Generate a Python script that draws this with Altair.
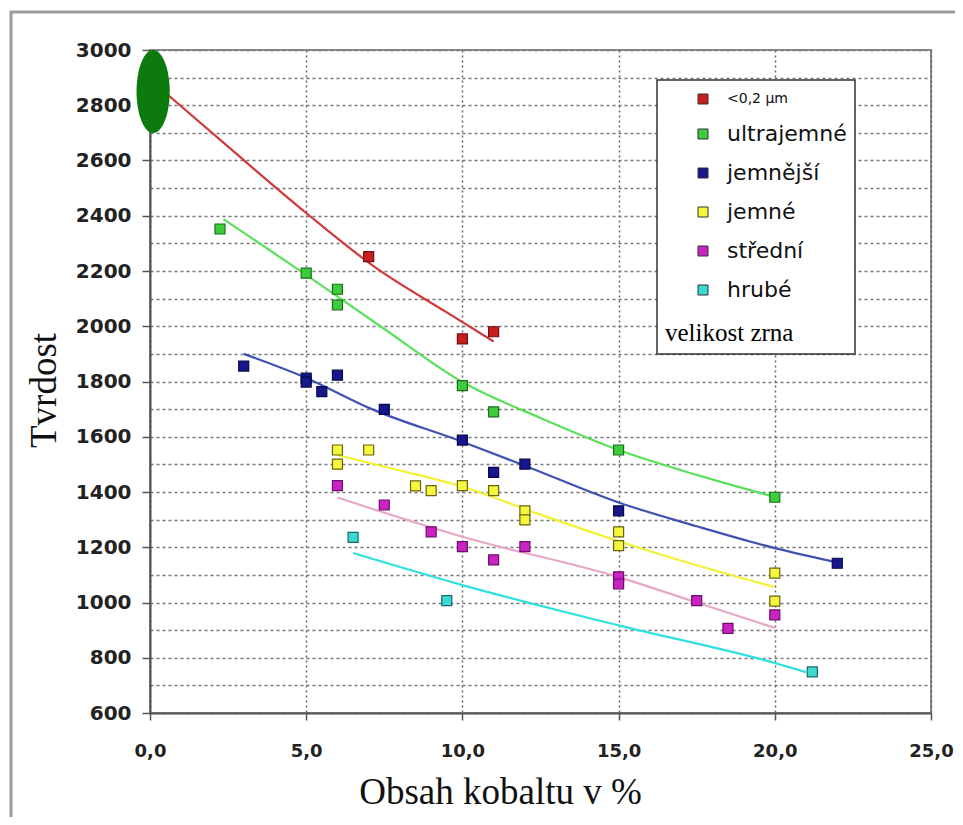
import altair as alt
import pandas as pd

# ---------------- data ----------------
series = ["<0,2 µm", "ultrajemné", "jemnější", "jemné", "střední", "hrubé"]
fill_colors = ["#c81e1e", "#3dcc3d", "#16168e", "#f6f63c", "#cc22c4", "#3cd8d2"]
edge_colors = ["#701010", "#1a701a", "#08084a", "#66660f", "#6a106a", "#1a6a6a"]
line_colors = ["#d03a3a", "#5ae05a", "#4152b4", "#f2f232", "#eaa6c8", "#30e0e0"]

# measured points
red_x = [7, 10, 11]
red_y = [2252, 1954, 1980]
green_x = [2.24, 5, 6, 6, 10, 11, 15, 20]
green_y = [2352, 2192, 2134, 2077, 1785, 1690, 1552, 1381]
blue_x = [3, 5, 5, 5.5, 6, 7.5, 10, 11, 12, 15, 22]
blue_y = [1856, 1812, 1798, 1763, 1823, 1699, 1588, 1471, 1501, 1332, 1142]
yellow_x = [6, 6, 7, 8.5, 9, 10, 11, 12, 12, 15, 15, 20, 20]
yellow_y = [1552, 1501, 1552, 1422, 1405, 1423, 1405, 1332, 1299, 1256, 1206, 1106, 1005]
magenta_x = [6, 7.5, 9, 10, 11, 12, 15, 15, 17.5, 18.5, 20]
magenta_y = [1423, 1353, 1256, 1202, 1154, 1202, 1093, 1067, 1007, 906, 955]
cyan_x = [6.5, 9.5, 21.2]
cyan_y = [1236, 1007, 749]

# trend curves
red_tx = [0.6, 2.5, 5, 7.2, 9.5, 11]
red_ty = [2835, 2650, 2410, 2214, 2050, 1945]
green_tx = [2.35, 5, 7.5, 10, 12.5, 15, 17.5, 20]
green_ty = [2388, 2186, 1990, 1798, 1668, 1552, 1462, 1382]
blue_tx = [3, 5, 7.1, 10, 12, 15, 17.5, 20, 22]
blue_ty = [1900, 1813, 1700, 1582, 1495, 1362, 1276, 1197, 1145]
yellow_tx = [6, 8, 10, 12.5, 15, 17.5, 20]
yellow_ty = [1534, 1478, 1419, 1318, 1222, 1135, 1056]
pink_tx = [6, 10, 15, 17.5, 20]
pink_ty = [1380, 1238, 1092, 1000, 908]
cyan_tx = [6.5, 10, 15, 20, 21]
cyan_ty = [1179, 1063, 917, 781, 748]

# green ellipse marker at the origin
ellipse_x = [0.1]
ellipse_y = [2850]

x_ticks = [0, 5, 10, 15, 20, 25]
y_ticks = list(range(600, 3001, 100))

# ---------------- tables ----------------
pts_rows = []
for name, xs, ys in zip(series, [red_x, green_x, blue_x, yellow_x, magenta_x, cyan_x],
                        [red_y, green_y, blue_y, yellow_y, magenta_y, cyan_y]):
    for xv, yv in zip(xs, ys):
        pts_rows.append({"series": name, "x": xv, "y": yv})
pts = pd.DataFrame(pts_rows)

line_rows = []
for name, xs, ys in zip(series, [red_tx, green_tx, blue_tx, yellow_tx, pink_tx, cyan_tx],
                        [red_ty, green_ty, blue_ty, yellow_ty, pink_ty, cyan_ty]):
    for i, (xv, yv) in enumerate(zip(xs, ys)):
        line_rows.append({"series": name, "x": xv, "y": yv, "o": i})
lines = pd.DataFrame(line_rows)

ell = pd.DataFrame({"x": ellipse_x, "y": ellipse_y})

# ---------------- encodings ----------------
X = alt.X(
    "x:Q",
    scale=alt.Scale(domain=[0, 25], nice=False, zero=False),
    axis=alt.Axis(
        values=x_ticks,
        labelExpr="replace(format(datum.value, '.1f'), '.', ',')",
        labelFlush=False,
        title="Obsah kobaltu v %",
        grid=True, gridDash=[2, 3], gridColor="#666", gridWidth=1.5,
        tickSize=7, tickColor="#555", tickWidth=1.5,
        domainColor="#555", domainWidth=2,
        labelFont="DejaVu Sans", labelFontWeight="bold", labelFontSize=18,
        labelColor="#222", labelPadding=22,
        titleFont="Liberation Serif", titleFontSize=37, titleFontWeight="normal",
        titleColor="#111", titlePadding=14, titleX=350,
    ),
)
Y = alt.Y(
    "y:Q",
    scale=alt.Scale(domain=[600, 3000], nice=False, zero=False),
    axis=alt.Axis(
        values=y_ticks,
        format="d",
        labelExpr="datum.value % 200 == 0 ? datum.label : ''",
        title="Tvrdost",
        grid=True, gridDash=[3, 3], gridColor="#777", gridWidth=1.5,
        tickSize=8, tickWidth=1.5,
        tickColor={"condition": {"test": "datum.value % 200 == 0", "value": "#555"},
                   "value": "transparent"},
        domainColor="#555", domainWidth=2,
        labelFont="DejaVu Sans", labelFontWeight="bold", labelFontSize=20,
        labelColor="#222", labelPadding=11,
        titleFont="Liberation Serif", titleFontSize=37, titleFontWeight="normal",
        titleColor="#111", titlePadding=12, titleY=340,
    ),
)

legend = alt.Legend(
    title="velikost zrna",
    orient="none", legendX=507, legendY=30,
    direction="vertical",
    titleOrient="bottom", titleAnchor="start",
    titleFont="Liberation Serif", titleFontSize=25, titleFontWeight="normal",
    titleColor="#000", titlePadding=20,
    symbolType="square", symbolSize=100,
    symbolStrokeColor="#333", symbolStrokeWidth=1,
    symbolOffset=27,
    labelFont="DejaVu Sans",
    labelFontSize={"expr": "datum.label == '<0,2 µm' ? 14 : 22"},
    labelExpr="datum.label == '<0,2 µm' ? '\u00a0\u00a0\u00a0' + datum.label : datum.label",
    labelColor="#111", labelOffset=13, labelLimit=300,
    rowPadding=17, padding=8,
    fillColor="white", strokeColor="#333",
)

frame_data = alt.Data(values=[{"a": 1}])
frame_left = alt.Chart(frame_data).mark_rule(stroke="#9a9a9a", strokeWidth=3).encode(
    x=alt.value(-139), y=alt.value(-39), y2=alt.value(800)
)
frame_top = alt.Chart(frame_data).mark_rule(stroke="#9a9a9a", strokeWidth=3).encode(
    x=alt.value(-140), x2=alt.value(830), y=alt.value(-38)
)

line_layer = alt.Chart(lines).mark_line(strokeWidth=2.2, interpolate="monotone").encode(
    x=X, y=Y,
    stroke=alt.Stroke("series:N", scale=alt.Scale(domain=series, range=line_colors), legend=None),
    detail="series:N",
    order="o:Q",
)

point_layer = alt.Chart(pts).mark_square(size=100, filled=True, strokeWidth=1.2, opacity=1).encode(
    x=X, y=Y,
    color=alt.Color("series:N", scale=alt.Scale(domain=series, range=fill_colors), legend=legend),
    stroke=alt.Stroke("series:N", scale=alt.Scale(domain=series, range=edge_colors), legend=None),
)

ellipse_path = ("M 0 -1 C 0.22 -1 0.4 -0.55 0.4 0 C 0.4 0.55 0.22 1 0 1 "
                "C -0.22 1 -0.4 0.55 -0.4 0 C -0.4 -0.55 -0.22 -1 0 -1 Z")
ellipse_layer = alt.Chart(ell).mark_point(
    shape=ellipse_path, size=83 * 83, filled=True, color="#0c7a0c", opacity=1
).encode(x=X, y=Y)

chart = alt.layer(frame_left, frame_top, line_layer, point_layer, ellipse_layer).resolve_scale(
    stroke="independent"
).properties(
    width=781, height=663,
    autosize=alt.AutoSizeParams(type="none"),
    padding={"left": 142, "top": 42, "right": 24, "bottom": 104},
    background="white",
).configure_view(
    stroke="#8a8a8a", strokeWidth=2
).configure_legend(
    strokeWidth=1.5
)

chart.save("out.html", embed_options={"renderer": "svg", "actions": False})
